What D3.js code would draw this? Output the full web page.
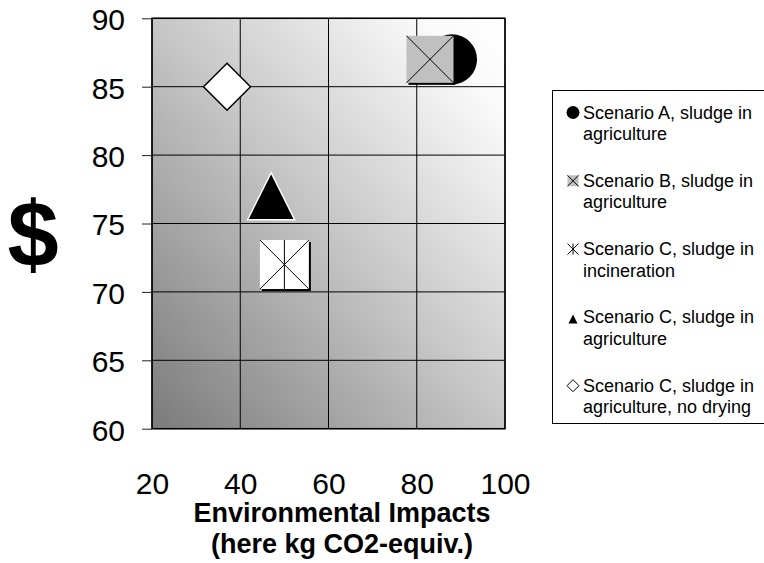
<!doctype html>
<html>
<head>
  <meta charset="UTF-8" />
  <title>Cost vs environmental impacts</title>
  <style>
    html, body {
      margin: 0;
      background: #fff;
    }
    svg {
      display: block;
      font-family: Helvetica, Arial, "Liberation Sans", sans-serif;
    }
    .axis path { display: none; }
    .axis text { fill: #000; font-size: 30px; }
  </style>
</head>
<body>
  <svg id="chart" width="764" height="563"></svg>
  <script src="https://cdn.jsdelivr.net/npm/d3@7"></script>
  <script>
    // data
    const scenarios = [
      'Scenario A, sludge in agriculture',
      'Scenario B, sludge in agriculture',
      'Scenario C, sludge in incineration',
      'Scenario C, sludge in agriculture',
      'Scenario C, sludge in agriculture, no drying'
    ];
    const legendLines = [
      ['Scenario A, sludge in', 'agriculture'],
      ['Scenario B, sludge in', 'agriculture'],
      ['Scenario C, sludge in', 'incineration'],
      ['Scenario C, sludge in', 'agriculture'],
      ['Scenario C, sludge in', 'agriculture, no drying']
    ];
    const impacts = [88, 83, 50, 47, 37];   // kg CO2-equiv.
    const costs = [87, 87, 72, 77, 85];     // $
    const markers = ['circle', 'grayX', 'asterisk', 'triangle', 'diamond'];
    const xTicks = [20, 40, 60, 80, 100];
    const yTicks = [60, 65, 70, 75, 80, 85, 90];

    // layout
    const margin = { left: 152, top: 18.3 },
      width = 353,
      height = 410.4;

    const svg = d3.select('#chart');

    const defs = svg.append('defs');
    const grad = defs.append('linearGradient')
      .attr('id', 'bg')
      .attr('x1', 0).attr('y1', 1)
      .attr('x2', 1).attr('y2', 0);
    grad.append('stop').attr('offset', '0%').attr('stop-color', '#7b7b7b');
    grad.append('stop').attr('offset', '50%').attr('stop-color', '#c6c6c6');
    grad.append('stop').attr('offset', '88%').attr('stop-color', '#fafafa');
    grad.append('stop').attr('offset', '100%').attr('stop-color', '#ffffff');

    const x = d3.scaleLinear().domain([20, 100]).range([0, width]);
    const y = d3.scaleLinear().domain([60, 90]).range([height, 0]);

    const g = svg.append('g')
      .attr('transform', `translate(${margin.left},${margin.top})`);

    g.append('rect')
      .attr('width', width)
      .attr('height', height)
      .attr('fill', 'url(#bg)');

    // grid
    g.selectAll('line.vgrid')
      .data(xTicks)
      .join('line')
      .attr('class', 'vgrid')
      .attr('x1', d => x(d)).attr('x2', d => x(d))
      .attr('y1', 0).attr('y2', height)
      .attr('stroke', '#000')
      .attr('stroke-width', 1);

    g.selectAll('line.hgrid')
      .data(yTicks)
      .join('line')
      .attr('class', 'hgrid')
      .attr('x1', 0).attr('x2', width)
      .attr('y1', d => y(d)).attr('y2', d => y(d))
      .attr('stroke', '#000')
      .attr('stroke-width', 1);

    g.append('rect')
      .attr('width', width)
      .attr('height', height)
      .attr('fill', 'none')
      .attr('stroke', '#000')
      .attr('stroke-width', 1.5);

    // axes
    const yAxis = g.append('g')
      .attr('class', 'axis')
      .call(d3.axisLeft(y).tickValues(yTicks).tickSize(10).tickPadding(17));
    yAxis.selectAll('line').attr('stroke', '#222');
    yAxis.selectAll('text').attr('dy', '0.38em');

    const xAxis = g.append('g')
      .attr('class', 'axis')
      .attr('transform', `translate(0,${height})`)
      .call(d3.axisBottom(x).tickValues(xTicks).tickSize(0).tickPadding(44));
    xAxis.selectAll('text').attr('dy', '0.71em');

    // points
    const pts = scenarios.map((s, i) => ({
      name: s, x: impacts[i], y: costs[i], marker: markers[i]
    }));

    function drawMarker(sel, d, s, big) {
      const h = s / 2;
      if (d.marker === 'circle') {
        sel.append('circle').attr('r', h).attr('fill', '#000');
      } else if (d.marker === 'grayX') {
        if (big) sel.append('rect').attr('x', -h + 2).attr('y', -h + 2)
          .attr('width', s).attr('height', s).attr('fill', '#000');
        sel.append('rect').attr('x', -h).attr('y', -h)
          .attr('width', s).attr('height', s).attr('fill', '#c0c0c0');
        sel.append('path').attr('d', `M${-h},${-h}L${h},${h}M${h},${-h}L${-h},${h}`)
          .attr('stroke', '#000').attr('stroke-width', 1).attr('fill', 'none');
      } else if (d.marker === 'asterisk') {
        if (big) {
          sel.append('rect').attr('x', -h + 2).attr('y', -h + 2)
            .attr('width', s).attr('height', s).attr('fill', '#000');
          sel.append('rect').attr('x', -h).attr('y', -h)
            .attr('width', s).attr('height', s).attr('fill', '#fff');
        }
        sel.append('path')
          .attr('d', `M${-h},${-h}L${h},${h}M${h},${-h}L${-h},${h}M0,${-h}L0,${h}`)
          .attr('stroke', '#000').attr('stroke-width', 1).attr('fill', 'none');
      } else if (d.marker === 'triangle') {
        sel.append('path')
          .attr('d', `M0,${-h}L${h},${h}L${-h},${h}Z`)
          .attr('fill', '#000')
          .attr('stroke', big ? '#fff' : 'none')
          .attr('stroke-width', 1.5);
      } else if (d.marker === 'diamond') {
        sel.append('path')
          .attr('d', `M0,${-h}L${h},0L0,${h}L${-h},0Z`)
          .attr('fill', '#fff')
          .attr('stroke', '#000')
          .attr('stroke-width', big ? 1.5 : 1);
      }
    }

    const bigSize = { circle: 50, grayX: 47, asterisk: 49, triangle: 47, diamond: 47 };

    g.selectAll('g.pt')
      .data(pts)
      .join('g')
      .attr('class', 'pt')
      .attr('transform', d => `translate(${x(d.x)},${y(d.y)})`)
      .each(function (d) { drawMarker(d3.select(this), d, bigSize[d.marker], true); });

    // y title
    svg.append('text')
      .attr('x', 33)
      .attr('y', 266)
      .attr('text-anchor', 'middle')
      .style('font-size', '92px')
      .style('font-weight', 'bold')
      .text('$');

    // x title
    const xt = svg.append('text')
      .attr('text-anchor', 'middle')
      .style('font-size', '27px')
      .style('font-weight', 'bold');
    xt.append('tspan').attr('x', 342).attr('y', 522).text('Environmental Impacts');
    xt.append('tspan').attr('x', 342).attr('y', 553).text('(here kg CO2-equiv.)');

    // legend (box runs past the right edge)
    const legend = svg.append('g');
    legend.append('rect')
      .attr('x', 552.5).attr('y', 90.5)
      .attr('width', 260).attr('height', 333)
      .attr('fill', '#fff')
      .attr('stroke', '#000')
      .attr('stroke-width', 1);

    const smallSize = { circle: 13, grayX: 11, asterisk: 11, triangle: 9, diamond: 12 };
    const entry = legend.selectAll('g.entry')
      .data(pts)
      .join('g')
      .attr('class', 'entry')
      .attr('transform', (d, i) => `translate(0,${118.5 + i * 68.3})`);

    entry.append('g')
      .attr('transform', d => `translate(573,${d.marker === 'triangle' ? -4.5 : -6})`)
      .each(function (d) { drawMarker(d3.select(this), d, smallSize[d.marker], false); });

    entry.append('text')
      .style('font-size', '18px')
      .selectAll('tspan')
      .data((d, i) => legendLines[i])
      .join('tspan')
      .attr('x', 583)
      .attr('y', (t, j) => j * 21.5)
      .text(t => t);
  </script>
</body>
</html>
